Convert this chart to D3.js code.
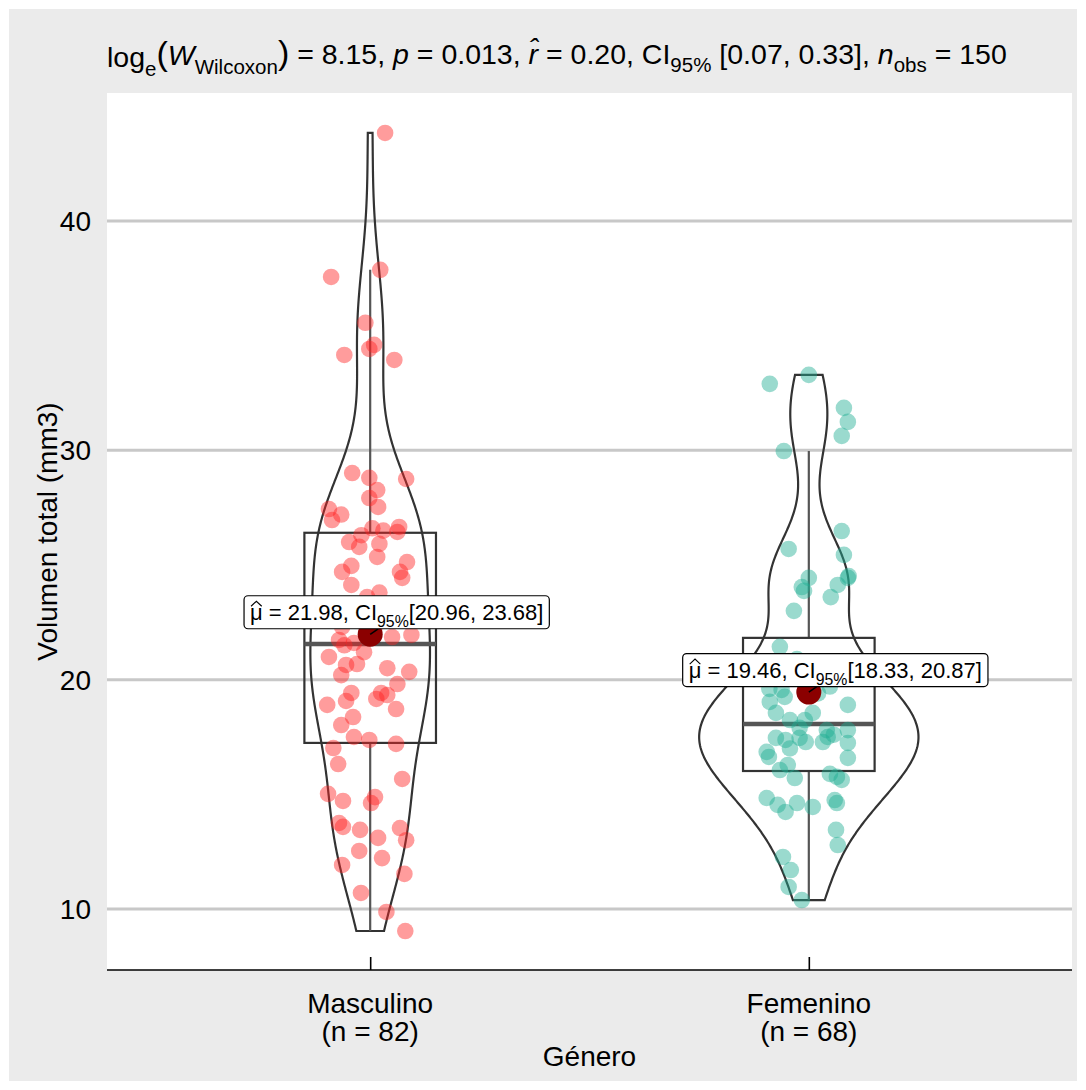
<!DOCTYPE html>
<html>
<head>
<meta charset="utf-8">
<script src="https://cdn.jsdelivr.net/npm/d3@7"></script>
<style>
  body { margin: 0; background: #fff; }
  text { font-family: "Liberation Sans", Arial, sans-serif; fill: #000; }
</style>
</head>
<body>
<svg id="chart" width="1086" height="1090"></svg>
<script>
// ---- data ----
var groups = ['Masculino', 'Femenino'];
var groupN = [82, 68];
var meanValues = [21.98, 19.46];
var ciLow = [20.96, 18.33];
var ciHigh = [23.68, 20.87];
var yTicks = [10, 20, 30, 40];

var mascValues = [43.84, 37.56, 37.87, 35.56, 34.6, 34.42, 34.16, 33.94,
    29.01, 28.80, 28.75, 28.27, 27.92, 27.53, 27.44, 26.96, 27.2, 26.66, 26.44, 26.0,
    25.79, 25.92, 25.35, 25.13, 24.96, 24.70, 24.70, 24.44, 24.13, 23.8, 23.6, 22.3,
    21.95, 21.86, 21.73, 21.6, 20.99, 20.64, 20.68, 21.5, 20.5, 20.34, 20.2, 19.81,
    19.42, 19.42, 19.16, 19.07, 19.33, 18.9, 18.72, 18.37, 18.02, 17.5, 17.37, 17.2,
    17.02, 16.32, 15.67, 15.02, 14.71, 14.88, 14.62, 13.75, 13.58, 13.45, 13.53, 13.0,
    13.1, 12.53, 12.22, 11.92, 11.53, 10.7, 9.87, 9.04,
    22.6, 26.3, 26.5, 26.6, 22.2, 21.2];
// horizontal jitter, in category units
var mascJitter = [0.034, -0.089, 0.023, -0.011, 0.009, -0.002, -0.059, 0.055,
    -0.041, -0.002, 0.082, 0.016, -0.002, 0.018, -0.094, -0.087, -0.066, 0.066, 0.062, -0.048,
    -0.025, 0.021, 0.016, 0.084, -0.043, -0.064, 0.068, 0.073, -0.043, 0.021, -0.007, -0.064,
    0.094, 0.050, -0.071, -0.037, -0.094, -0.055, -0.030, -0.059, 0.039, 0.089, -0.066, 0.062,
    -0.043, 0.025, 0.014, -0.055, 0.039, -0.098, 0.059, -0.039, -0.066, -0.037, -0.002, 0.059,
    -0.084, -0.073, 0.073, -0.096, -0.062, 0.011, 0.002, -0.071, -0.062, -0.023, 0.068, 0.082,
    0.018, -0.025, 0.027, -0.064, 0.078, -0.021, 0.037, 0.080,
    -0.025, -0.020, 0.030, 0.005, 0.009, -0.014];

var femValues = [32.9, 33.29, 31.85, 31.24, 30.63, 29.97, 26.48, 25.7, 25.44, 24.52,
    24.44, 24.44, 24.04, 23.87, 24.13, 23.6, 23.0,
    21.43, 19.55, 19.03, 19.25, 18.9, 18.55, 18.24, 18.24, 18.55, 17.8, 17.8, 17.46,
    17.37, 17.46, 17.28, 17.28, 17.5, 17.24, 16.85, 16.63, 16.59, 16.06, 16.28, 15.71,
    15.89, 15.63, 15.76, 14.84, 14.54, 14.23, 14.62, 14.45, 14.75, 14.62, 13.45, 12.79,
    12.27, 11.70, 10.96, 10.39,
    20.9, 20.7, 20.5, 20.3, 20.1, 17.0, 19.7, 19.6, 19.4, 17.9, 17.6];
var femJitter = [-0.089, 0, 0.080, 0.089, 0.075, -0.057, 0.075, -0.046, 0.080, 0.091,
    0.089, 0, -0.016, -0.011, 0.066, 0.050, -0.034,
    -0.066, -0.062, -0.089, -0.055, 0.089, -0.075, -0.043, -0.009, 0.009, 0.041, 0.089, -0.075,
    -0.053, -0.021, -0.007, 0.032, 0.043, 0.089, -0.096, -0.091, 0.089, -0.066, -0.048, -0.032,
    0.048, 0.075, 0.064, -0.096, -0.071, -0.053, -0.027, 0.009, 0.059, 0.064, 0.062, 0.066,
    -0.059, -0.041, -0.046, -0.016,
    -0.027, 0.030, -0.100, 0.071, 0.007, -0.043, 0.048, -0.090, 0.021, -0.021, 0.057];

var groupValues = [mascValues, femValues];
var groupJitter = [mascJitter, femJitter];
var groupColors = ['#ff2424', '#1fae92'];

// ---- layout ----
var panel = { left: 107, right: 1072, top: 93, bottom: 970 };
var FS = '28px';

var svg = d3.select('#chart');

svg.append('rect').attr('x', 9).attr('y', 9).attr('width', 1068).attr('height', 1072)
    .attr('fill', '#ebebeb');
svg.append('rect').attr('x', panel.left).attr('y', panel.top)
    .attr('width', panel.right - panel.left).attr('height', panel.bottom - panel.top)
    .attr('fill', '#fff');

var x = d3.scalePoint().domain(groups).range([panel.left, panel.right]).padding(0.6);
var step = x.step();
var y = d3.scaleLinear().domain([10, 40]).range([909, 221]);

/* grid lines */
svg.append('g').selectAll('line').data(yTicks).enter().append('line')
    .attr('x1', panel.left).attr('x2', panel.right)
    .attr('y1', function(d) { return y(d); }).attr('y2', function(d) { return y(d); })
    .attr('stroke', '#c8c8c8').attr('stroke-width', 3);

/* y tick labels */
svg.append('g').selectAll('text').data(yTicks).enter().append('text')
    .attr('x', 91).attr('y', function(d) { return y(d); })
    .attr('dy', '0.36em').attr('text-anchor', 'end')
    .style('font-size', FS).text(function(d) { return d; });

/* x axis */
var xAxis = svg.append('g').attr('transform', 'translate(0,' + panel.bottom + ')')
    .call(d3.axisBottom(x).tickSizeInner(-13).tickSizeOuter(0).tickFormat(''));
xAxis.select('.domain').attr('d', 'M' + panel.left + ',0H' + panel.right)
    .attr('stroke', '#000').attr('stroke-width', 1.6);
xAxis.selectAll('.tick line').attr('stroke', '#000').attr('stroke-width', 1.6);

groups.forEach(function(g, i) {
    var t = svg.append('text').attr('text-anchor', 'middle').style('font-size', FS);
    t.append('tspan').attr('x', x(g)).attr('y', 1013).text(g);
    t.append('tspan').attr('x', x(g)).attr('y', 1041).text('(n = ' + groupN[i] + ')');
});

svg.append('text').attr('x', (panel.left + panel.right) / 2).attr('y', 1066)
    .attr('text-anchor', 'middle').style('font-size', FS).text('Género');

svg.append('text')
    .attr('transform', 'translate(57,' + ((panel.top + panel.bottom) / 2) + ') rotate(-90)')
    .attr('text-anchor', 'middle').style('font-size', FS).text('Volumen total (mm3)');

/* density helpers (gaussian kernel, bw.nrd0, trimmed to data range) */
function nrd0(vals) {
    var s = vals.slice().sort(d3.ascending);
    var iqr = d3.quantile(s, 0.75) - d3.quantile(s, 0.25);
    var lo = Math.min(d3.deviation(s), iqr / 1.34);
    return 0.9 * lo * Math.pow(s.length, -0.2);
}
function kde(vals) {
    var bw = nrd0(vals);
    var lo = d3.min(vals), hi = d3.max(vals);
    var out = [];
    for (var k = 0; k < 512; k++) {
        var v = lo + (hi - lo) * k / 511;
        var dens = d3.mean(vals, function(d) {
            var z = (v - d) / bw;
            return Math.exp(-0.5 * z * z) / Math.sqrt(2 * Math.PI);
        }) / bw;
        out.push({ v: v, d: dens });
    }
    return out;
}

var densities = groupValues.map(kde);
var maxDens = d3.max(densities, function(ds) { return d3.max(ds, function(d) { return d.d; }); });
var halfWidth = 0.25 * step;

/* violins */
densities.forEach(function(ds, i) {
    var cx = x(groups[i]);
    var area = d3.area()
        .y(function(d) { return y(d.v); })
        .x0(function(d) { return cx - d.d / maxDens * halfWidth; })
        .x1(function(d) { return cx + d.d / maxDens * halfWidth; });
    svg.append('path').datum(ds).attr('d', area)
        .attr('fill', 'none').attr('stroke', '#333').attr('stroke-width', 2.2);
});

/* boxplots */
groupValues.forEach(function(vals, i) {
    var s = vals.slice().sort(d3.ascending);
    var q1 = d3.quantile(s, 0.25), med = d3.quantile(s, 0.5), q3 = d3.quantile(s, 0.75);
    var iqr = q3 - q1;
    var wLo = d3.min(s.filter(function(v) { return v >= q1 - 1.5 * iqr; }));
    var wHi = d3.max(s.filter(function(v) { return v <= q3 + 1.5 * iqr; }));
    var cx = x(groups[i]);
    var bw = 0.15 * step;
    var g = svg.append('g');
    g.append('line').attr('x1', cx).attr('x2', cx).attr('y1', y(q3)).attr('y2', y(wHi))
        .attr('stroke', '#555').attr('stroke-width', 2.2);
    g.append('line').attr('x1', cx).attr('x2', cx).attr('y1', y(q1)).attr('y2', y(wLo))
        .attr('stroke', '#555').attr('stroke-width', 2.2);
    g.append('rect').attr('x', cx - bw).attr('width', 2 * bw)
        .attr('y', y(q3)).attr('height', y(q1) - y(q3))
        .attr('fill', 'none').attr('stroke', '#333').attr('stroke-width', 2.2);
    g.append('line').attr('x1', cx - bw).attr('x2', cx + bw).attr('y1', y(med)).attr('y2', y(med))
        .attr('stroke', '#555').attr('stroke-width', 4.5);
});

/* jittered points */
groupValues.forEach(function(vals, i) {
    var cx = x(groups[i]);
    svg.append('g').selectAll('circle').data(vals).enter().append('circle')
        .attr('cx', function(d, k) { return cx + groupJitter[i][k] * step; })
        .attr('cy', function(d) { return y(d); })
        .attr('r', 8.3)
        .attr('fill', groupColors[i]).attr('fill-opacity', 0.45);
});

/* rich text: subscripts, italics */
function rich(textSel, parts) {
    var shift = 0;
    parts.forEach(function(p) {
        var ts = textSel.append('tspan').text(p.t);
        var target = p.sub ? 0.3 : 0;
        if (p.sub) {
            ts.style('font-size', '0.72em').attr('dy', ((target - shift) / 0.72) + 'em');
        } else if (target !== shift) {
            ts.attr('dy', (target - shift) + 'em');
        }
        if (p.it) { ts.style('font-style', 'italic'); }
        if (p.size) { ts.style('font-size', p.size); }
        shift = target;
    });
}

/* means + labels */
groups.forEach(function(g, i) {
    var cx = x(g), cy = y(meanValues[i]);
    var lx = cx + 26.5, ly = cy - 22;
    svg.append('circle').attr('cx', cx).attr('cy', cy).attr('r', 12.5).attr('fill', '#8b0000');
    svg.append('line').attr('x1', cx).attr('y1', cy).attr('x2', cx + 8).attr('y2', ly + 16.5)
        .attr('stroke', '#000').attr('stroke-width', 1.5);
    var lg = svg.append('g');
    var t = lg.append('text').attr('x', lx).attr('y', ly).attr('dy', '0.36em')
        .attr('text-anchor', 'middle').style('font-size', '22px');
    rich(t, [
        { t: 'μ = ' + meanValues[i].toFixed(2) + ', CI' },
        { t: '95%', sub: true },
        { t: '[' + ciLow[i].toFixed(2) + ', ' + ciHigh[i].toFixed(2) + ']' }
    ]);
    var bb = t.node().getBBox();
    lg.insert('rect', 'text').attr('x', bb.x - 6).attr('y', ly - 16.5)
        .attr('width', bb.width + 12).attr('height', 33).attr('rx', 4)
        .attr('fill', '#fff').attr('stroke', '#000').attr('stroke-width', 1.2);
    // wide hat over the mu
    var mu = t.node().getExtentOfChar(0);
    lg.append('path')
        .attr('d', 'M' + (mu.x + 1) + ',' + (ly - 6) + 'L' + (mu.x + mu.width / 2) + ',' + (ly - 11) +
            'L' + (mu.x + mu.width - 1) + ',' + (ly - 6))
        .attr('fill', 'none').attr('stroke', '#000').attr('stroke-width', 1.1);
});

/* title */
var title = svg.append('text').attr('x', panel.left).attr('y', 67).style('font-size', '28.5px');
rich(title, [
    { t: 'log' }, { t: 'e', sub: true },
    { t: '(', size: '34px' }, { t: 'W', it: true }, { t: 'Wilcoxon', sub: true },
    { t: ')', size: '34px' },
    { t: ' = 8.15, ' }, { t: 'p', it: true }, { t: ' = 0.013, ' },
    { t: 'r\u0302', it: true }, { t: ' = 0.20, CI' }, { t: '95%', sub: true },
    { t: ' [0.07, 0.33], ' }, { t: 'n', it: true }, { t: 'obs', sub: true }, { t: ' = 150' }
]);
</script>
</body>
</html>
